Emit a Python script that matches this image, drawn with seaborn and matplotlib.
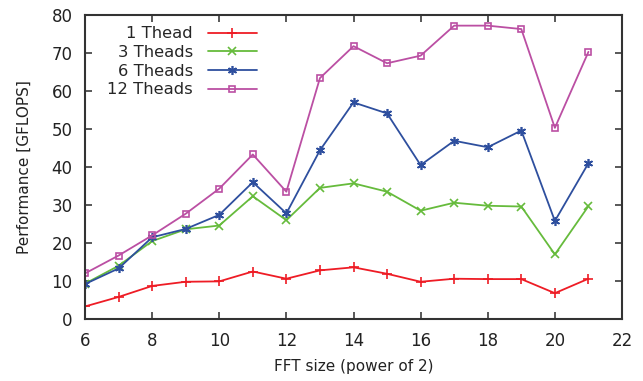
import matplotlib
matplotlib.use("Agg")
import matplotlib.pyplot as plt
import seaborn as sns
import pandas as pd

fft_size = list(range(6, 22))
t1 = [3.3, 5.8, 8.7, 9.8, 9.9, 12.5, 10.6, 12.8, 13.6, 11.9, 9.8, 10.6, 10.5, 10.5, 6.8, 10.6]
t3 = [9.3, 14.0, 20.5, 23.6, 24.6, 32.3, 26.0, 34.5, 35.7, 33.5, 28.5, 30.6, 29.8, 29.6, 17.0, 29.7]
t6 = [9.2, 13.3, 21.5, 23.7, 27.4, 36.0, 27.8, 44.4, 57.0, 54.1, 40.5, 46.9, 45.2, 49.6, 25.8, 41.0]
t12 = [12.0, 16.7, 22.0, 27.7, 34.3, 43.3, 33.5, 63.4, 71.8, 67.3, 69.3, 77.2, 77.2, 76.3, 50.3, 70.3]
labels = ["1 Thead", "3 Theads", "6 Theads", "12 Theads"]

sns.set_theme(style="ticks")
plt.rcParams['font.family'] = ['DejaVu Sans']

fig = plt.figure(figsize=(6.43, 3.81), dpi=100)
ax = fig.add_axes([85/643, 1 - 319/381, (622-85)/643, (319-15)/381])

colors = ['#ee1c25', '#66bb3c', '#2e4f9e', '#bb4fa3']
markers = ['+', 'x', (6, 2, 0), 's']
msizes = [7, 6, 6.5, 5]
for vals, lab, c, m, ms in zip([t1, t3, t6, t12], labels, colors, markers, msizes):
    df = pd.DataFrame({"x": fft_size, "y": vals})
    sns.lineplot(data=df, x="x", y="y", ax=ax, color=c, marker=m, markersize=ms,
                 markerfacecolor='none', markeredgecolor=c, markeredgewidth=1.2,
                 linewidth=1.3, label=lab)

ax.set_xlim(6, 22)
ax.set_ylim(0, 80)
ax.set_xticks(range(6, 23, 2))
ax.set_yticks(range(0, 81, 10))
ax.tick_params(direction='in', top=True, right=True, length=5, labelsize=12,
               colors='#444444', labelcolor='#222222')
ax.tick_params(axis='x', pad=9)
ax.tick_params(axis='y', pad=9)
for s in ax.spines.values():
    s.set_linewidth(1.5)
    s.set_color('#333333')
ax.set_xlabel("FFT size (power of 2)", fontsize=11, labelpad=7, color='#222222')
ax.set_ylabel("Performance [GFLOPS]", fontsize=11, labelpad=14, color='#222222')

leg = ax.legend(loc='upper left', frameon=False, markerfirst=False, fontsize=11.8,
                handlelength=3.0, handletextpad=0.9, borderaxespad=0.3, labelspacing=0.22,
                bbox_to_anchor=(0.02, 1.0))
for t in leg.get_texts():
    t.set_ha('right')
leg._legend_box.align = 'right'
fig.savefig("out.png", dpi=100)
